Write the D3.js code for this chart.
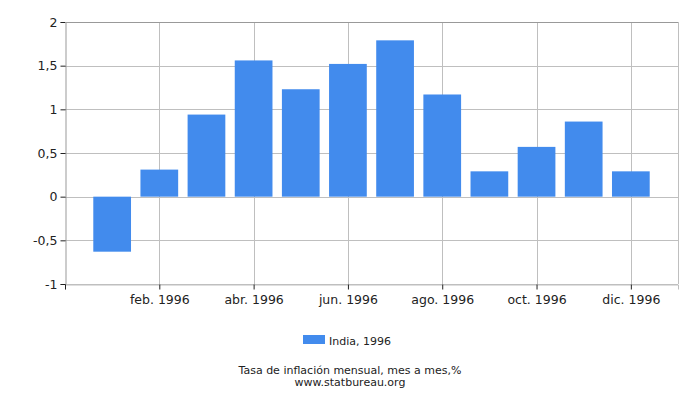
<!DOCTYPE html>
<html>
<head>
<meta charset="utf-8">
<script src="https://cdn.jsdelivr.net/npm/d3@7"></script>
<style>
  body { margin: 0; background: #fff; }
  svg { font-family: 'DejaVu Sans', sans-serif; }
</style>
</head>
<body>
<div id="chart"></div>
<script>
// data
const months = ['ene. 1996', 'feb. 1996', 'mar. 1996', 'abr. 1996', 'may. 1996', 'jun. 1996',
  'jul. 1996', 'ago. 1996', 'sep. 1996', 'oct. 1996', 'nov. 1996', 'dic. 1996'];
const values = [-0.63, 0.31, 0.94, 1.56, 1.23, 1.52, 1.79, 1.17, 0.29, 0.57, 0.86, 0.29];
const yTicks = [-1, -0.5, 0, 0.5, 1, 1.5, 2];
const xTickIdx = [1, 3, 5, 7, 9, 11];
const seriesName = 'India, 1996';
const title = 'Tasa de inflación mensual, mes a mes,%';
const source = 'www.statbureau.org';

const width = 700;
const height = 400;
const margin = {top: 22, right: 22, bottom: 116, left: 65};
const color = '#428bed';

const svg = d3.select('#chart')
    .append('svg')
    .attr('width', width)
    .attr('height', height);

const x = d3.scaleLinear()
    .domain([-1, months.length])
    .range([margin.left, width - margin.right]);

const y = d3.scaleLinear()
    .domain([-1, 2])
    .range([height - margin.bottom, margin.top]);

const step = x(1) - x(0);
const barW = step * 0.8;

// grid
svg.append('g')
    .attr('stroke', '#bfbfbf')
    .attr('stroke-width', 1)
    .selectAll()
    .data(yTicks)
    .join('line')
    .attr('x1', margin.left)
    .attr('x2', width - margin.right)
    .attr('y1', (d) => Math.round(y(d)) + 0.5)
    .attr('y2', (d) => Math.round(y(d)) + 0.5);

svg.append('g')
    .attr('stroke', '#bfbfbf')
    .attr('stroke-width', 1)
    .selectAll()
    .data(xTickIdx)
    .join('line')
    .attr('x1', (d) => Math.round(x(d)) + 0.5)
    .attr('x2', (d) => Math.round(x(d)) + 0.5)
    .attr('y1', margin.top)
    .attr('y2', height - margin.bottom);

svg.append('line')
    .attr('stroke', '#bfbfbf')
    .attr('x1', Math.round(x(months.length)) + 0.5)
    .attr('x2', Math.round(x(months.length)) + 0.5)
    .attr('y1', margin.top)
    .attr('y2', height - margin.bottom);

// bars
svg.append('g')
    .attr('fill', color)
    .selectAll()
    .data(values)
    .join('rect')
    .attr('x', (d, i) => x(i) - barW / 2)
    .attr('width', barW)
    .attr('y', (d) => y(Math.max(0, d)))
    .attr('height', (d) => Math.abs(y(d) - y(0)));

// axes
const yAxis = d3.axisLeft(y)
    .tickValues(yTicks)
    .tickSize(5)
    .tickFormat((d) => String(d).replace('.', ','));

svg.append('g')
    .attr('transform', `translate(${Math.round(margin.left) + 0.5},0)`)
    .call(yAxis)
    .call((g) => g.select('.domain').attr('stroke', '#999'))
    .call((g) => g.selectAll('.tick line').attr('stroke', '#222'))
    .call((g) => g.selectAll('text')
        .attr('font-size', 12.5)
        .attr('font-family', 'DejaVu Sans, sans-serif')
        .attr('fill', '#222'));

const xAxis = d3.axisBottom(x)
    .tickValues([-1, ...xTickIdx])
    .tickSize(5)
    .tickFormat((d) => d < 0 ? '' : months[d]);

svg.append('g')
    .attr('transform', `translate(0,${Math.round(y(-1)) + 0.5})`)
    .call(xAxis)
    .call((g) => g.select('.domain').attr('stroke', '#bfbfbf'))
    .call((g) => g.selectAll('.tick line').attr('stroke', '#222'))
    .call((g) => g.selectAll('text')
        .attr('font-size', 12.5)
        .attr('dy', '0.95em')
        .attr('font-family', 'DejaVu Sans, sans-serif')
        .attr('fill', '#222'));

// top border
svg.append('line')
    .attr('stroke', '#999')
    .attr('x1', margin.left)
    .attr('x2', width - margin.right)
    .attr('y1', Math.round(y(2)) + 0.5)
    .attr('y2', Math.round(y(2)) + 0.5);

// legend
const legend = svg.append('g');
legend.append('rect')
    .attr('x', 303)
    .attr('y', 335)
    .attr('width', 22)
    .attr('height', 9)
    .attr('fill', color);
legend.append('text')
    .attr('x', 329)
    .attr('y', 345)
    .attr('font-size', 11)
    .attr('fill', '#222')
    .text(seriesName);

svg.append('text')
    .attr('x', width / 2)
    .attr('y', 374)
    .attr('text-anchor', 'middle')
    .attr('font-size', 11)
    .attr('fill', '#222')
    .text(title);

svg.append('text')
    .attr('x', width / 2)
    .attr('y', 386)
    .attr('text-anchor', 'middle')
    .attr('font-size', 11)
    .attr('fill', '#222')
    .text(source);
</script>
</body>
</html>
